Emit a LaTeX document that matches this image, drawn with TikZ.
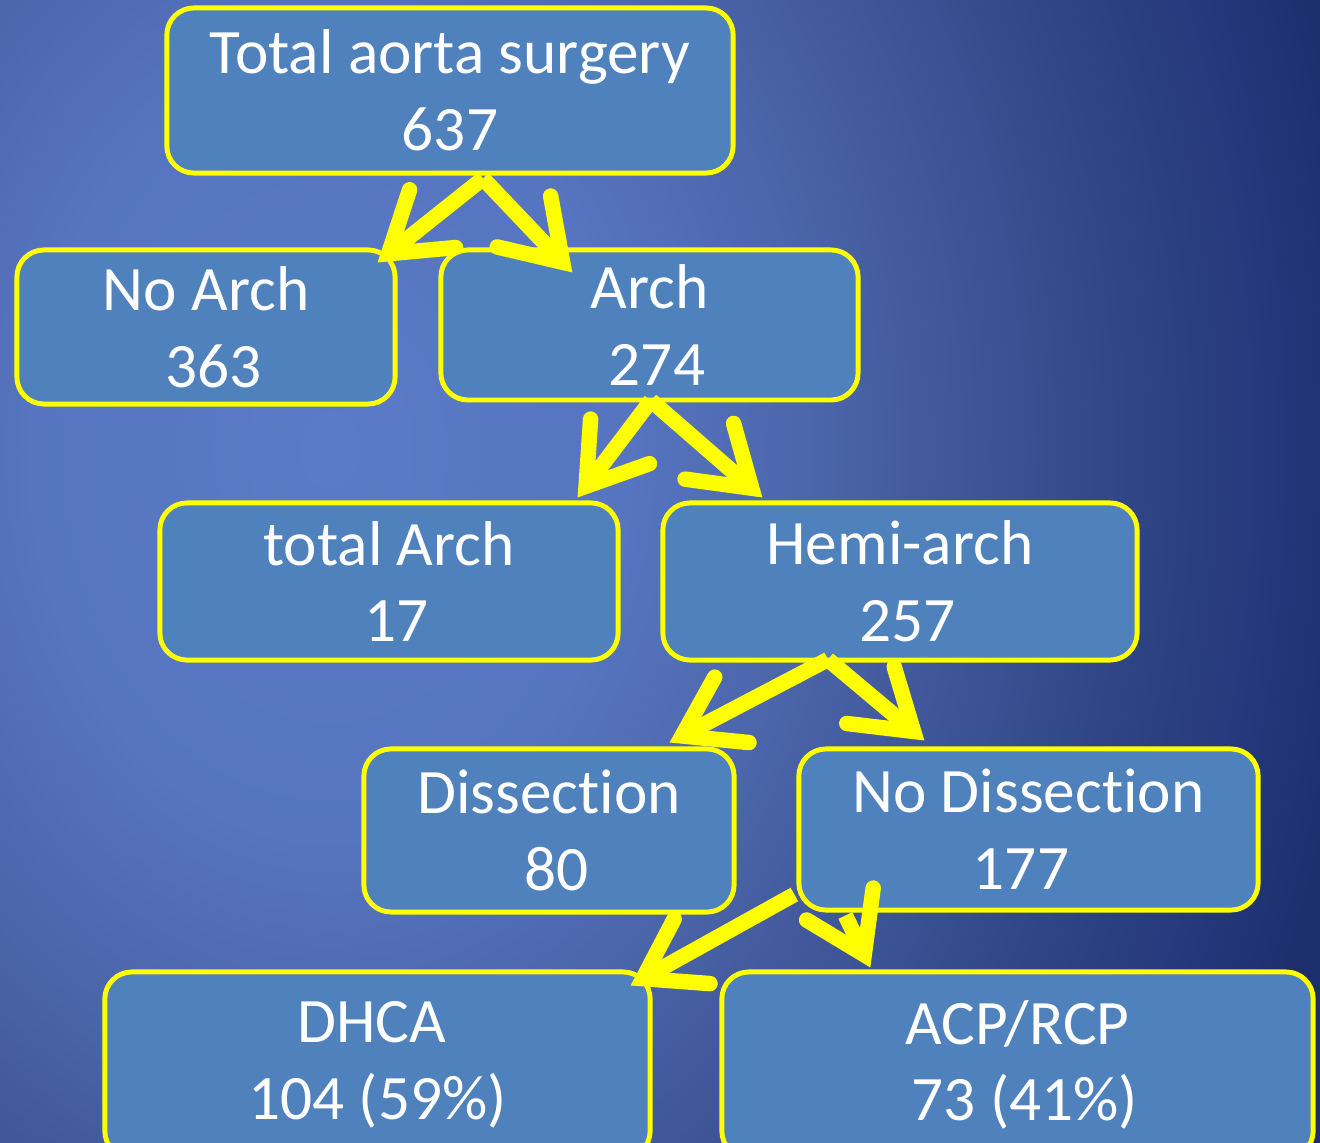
\documentclass[tikz,border=0pt]{standalone}
\usepackage{fontspec}
\setmainfont{Carlito}[Ligatures=NoCommon]
\usetikzlibrary{arrows.meta,calc}

\definecolor{boxblue}{HTML}{4F81BD}
\definecolor{hiyellow}{HTML}{FFFF00}
\definecolor{bgA}{HTML}{5B7BC8}
\definecolor{bgB}{HTML}{5674BF}
\definecolor{bgC}{HTML}{4A64A8}
\definecolor{bgD}{HTML}{3D5496}
\definecolor{bgE}{HTML}{2F4585}
\definecolor{bgF}{HTML}{24377A}
\definecolor{bgG}{HTML}{1C2E6B}
\pgfdeclareradialshading{bgshade}{\pgfpoint{0bp}{0bp}}{%
  color(0bp)=(bgA); color(3.75bp)=(bgB); color(6.25bp)=(bgC); color(8.125bp)=(bgD);
  color(10bp)=(bgE); color(11.875bp)=(bgF); color(13.125bp)=(bgG); color(50bp)=(bgG)}

\begin{document}
\begin{tikzpicture}[
    x=0.01cm, y=-0.01cm,
    font=\fontsize{18}{21.8}\selectfont,
    group/.style={rectangle, rounded corners=2.7mm, draw=hiyellow, line width=1.4pt,
      fill=boxblue, text=white, align=center, inner sep=0pt},
    split/.style={-{Straight Barb[length=16pt, width=21pt, line cap=round]},
      draw=hiyellow, line width=4.4pt}
  ]

  % Background
  \useasboundingbox (0,0) rectangle (1320,1143);
  \begin{scope}
    \clip (0,0) rectangle (1320,1143);
    \path[shading=bgshade] (330,450) ellipse [x radius=2000, y radius=2600];

    % Total
    \node[group, minimum width=5.66cm, minimum height=1.65cm] (total) at (450,90.5) {Total aorta surgery\\637};

    % Arch or not
    \node[group, minimum width=3.78cm, minimum height=1.54cm] (noarch) at (206,327) {No Arch\\\hspace*{1.5mm}363};
    \node[group, minimum width=4.17cm, minimum height=1.50cm] (arch) at (649.5,325) {Arch\\\hspace*{1.5mm}274};

    % Extent of arch repair
    \node[group, minimum width=4.58cm, minimum height=1.57cm] (totarch) at (389,581.5) {total Arch\\\hspace*{1.5mm}17};
    \node[group, minimum width=4.74cm, minimum height=1.57cm] (hemi) at (900,581.5) {Hemi-arch\\\hspace*{1.5mm}257};

    % Dissection
    \node[group, minimum width=3.70cm, minimum height=1.63cm] (dissect) at (549,830.5) {Dissection\\\hspace*{1.5mm}80};
    \node[group, minimum width=4.59cm, minimum height=1.61cm] (nodissect) at (1028.5,829.5) {No Dissection\\177\hspace*{1.5mm}};

    % Perfusion
    \node[group, minimum width=5.45cm, minimum height=1.86cm] (dhca) at (377.5,1065) {DHCA\hspace*{1.2mm}\\104 (59\%)};
    \node[group, minimum width=5.91cm, minimum height=1.86cm] (acp) at (1017.5,1065) {ACP/RCP\\\hspace*{1.5mm}73 (41\%)};

    % Splits
    \draw[split] ($(total.south)+(33,3)$) -- ($(noarch.north east)+(-20,15)$);
    \draw[split] ($(total.south)+(33,3)$) -- ($(arch.north west)+(134,25)$);

    \draw[split] ($(arch.south)+(1.5,-2)$) -- ($(totarch.north east)+(-43,-3)$);
    \draw[split] ($(arch.south)+(1.5,-2)$) -- ($(hemi.north west)+(102,-3)$);

    \draw[split] ($(hemi.south)+(-72,-3)$) -- ($(dissect.north east)+(-67,-4)$);
    \draw[split] ($(hemi.south)+(-72,-3)$) -- ($(nodissect.north west)+(128,-6)$);

    \draw[split] ($(nodissect.south west)+(-2,-18)$) -- ($(dhca.north east)+(-22,16)$);
    \draw[split] ($(nodissect.south west)+(49,3)$) -- ($(acp.north west)+(151,-2)$);
  \end{scope}
\end{tikzpicture}
\end{document}
